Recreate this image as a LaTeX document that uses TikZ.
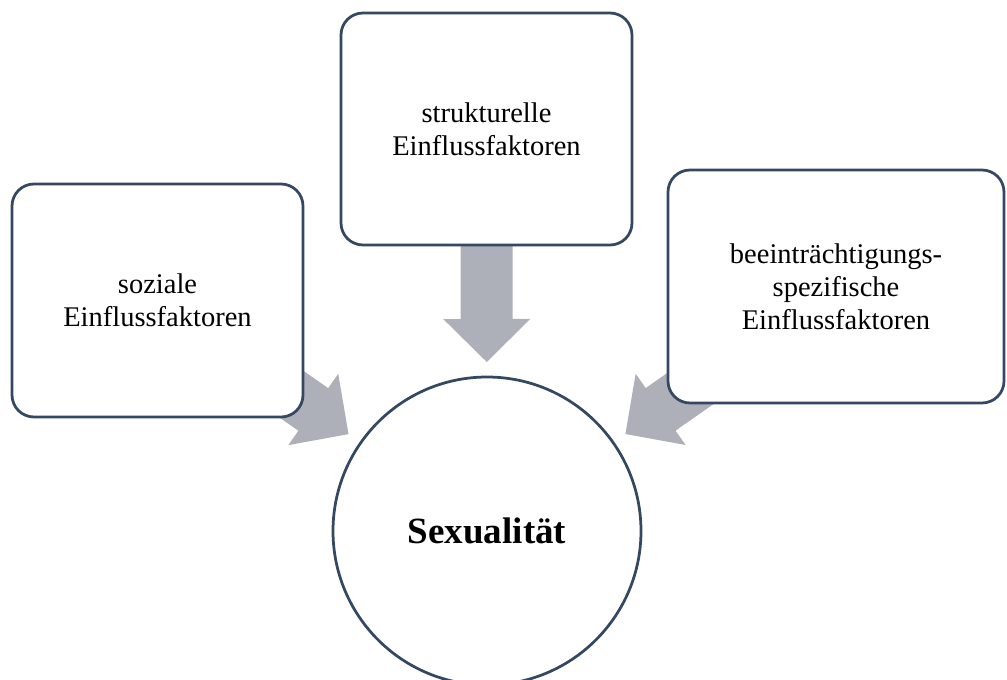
\documentclass[tikz,border=0pt]{standalone}
\usepackage{fontspec}
\setmainfont{Liberation Serif}
\usetikzlibrary{calc}
\pgfdeclarelayer{background}
\pgfsetlayers{background,main}
\definecolor{boxline}{HTML}{344862}
\definecolor{arrowgray}{HTML}{ADB0B8}
\newcommand{\blockarrow}[3]{%
  \coordinate (#3-tip) at ($(#2.center)!169pt!(#1.center)$);
  \coordinate (#3-hb) at ($(#3-tip)!43pt!(#1.center)$);
  \fill[arrowgray] ($(#1.center)!26pt!90:(#3-tip)$) -- ($(#3-hb)!26pt!90:(#3-tip)$)
    -- ($(#3-hb)!43.5pt!90:(#3-tip)$) -- (#3-tip)
    -- ($(#3-hb)!43.5pt!-90:(#3-tip)$) -- ($(#3-hb)!26pt!-90:(#3-tip)$)
    -- ($(#1.center)!26pt!-90:(#3-tip)$) -- cycle;
}
\tikzset{
  factor/.style={draw=boxline, line width=2.75pt, fill=white, rounded corners=22pt,
    inner sep=0pt, align=center, font=\fontsize{28.5}{33}\selectfont},
  core/.style={circle, draw=boxline, line width=2.75pt, fill=white, inner sep=0pt,
    minimum size=308pt, font=\fontsize{37}{44}\selectfont\bfseries}
}
\begin{document}
\begin{tikzpicture}[x=1pt,y=1pt]
\useasboundingbox (0,0) rectangle (1007,-680);
\clip (0,0) rectangle (1007,-680);
\node[factor, minimum width=291pt, minimum height=233pt] (soz) at (157.5,-300.5) {soziale\\Einflussfaktoren};
\node[factor, minimum width=291pt, minimum height=232pt] (str) at (486.5,-129) {strukturelle\\Einflussfaktoren};
\node[factor, minimum width=336pt, minimum height=233pt] (bee) at (836,-286.5) {beeinträchtigungs-\\spezifische\\Einflussfaktoren};
\node[core] (sex) at (487,-531) {Sexualität};
\begin{pgfonlayer}{background}
\blockarrow{soz}{sex}{a1}
\blockarrow{str}{sex}{a2}
\blockarrow{bee}{sex}{a3}
\end{pgfonlayer}
\end{tikzpicture}
\end{document}
